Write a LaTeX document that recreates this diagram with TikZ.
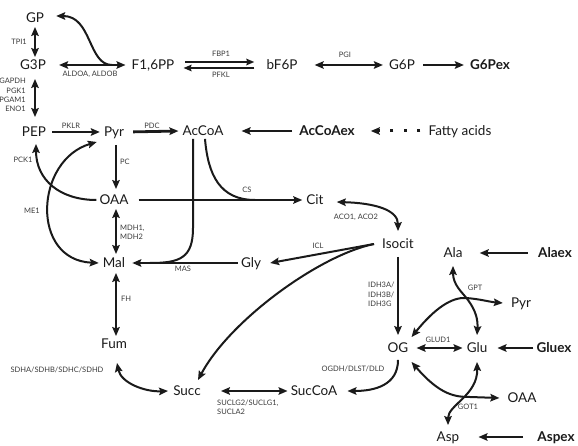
\documentclass[tikz,border=0pt]{standalone}
\usepackage{fontspec}
\setmainfont{Lato}
\usetikzlibrary{arrows.meta}
\definecolor{ink}{HTML}{1A1A1A}
\definecolor{lab}{HTML}{3A3A3A}
\begin{document}
\begin{tikzpicture}[x=1pt,y=-1pt,
  >={Stealth[length=9pt,width=7.5pt,inset=1.5pt]},
  met/.style={font=\fontsize{13.5}{16}\selectfont, text=ink, inner sep=3pt, text height=9.5pt, text depth=0pt},
  metb/.style={met, font=\fontsize{13.5}{16}\selectfont\bfseries},
  enz/.style={font=\fontsize{7.5}{9.3}\selectfont, text=lab, inner sep=0pt},
  thk/.style={draw=ink, line width=2.8pt},
  crv/.style={draw=ink, line width=2pt},
  small/.style={>={Stealth[length=8pt,width=6.5pt,inset=1pt]}},
]
\useasboundingbox (0,0) rectangle (578,446);
% metabolites
\node[met] (GP) at (35,18) {GP};
\node[met] (G3P) at (33,65) {G3P};
\node[met] (F16PP) at (153,65) {F1,6PP};
\node[met] (bF6P) at (282,65) {bF6P};
\node[met] (G6P) at (402,65) {G6P};
\node[metb] (G6Pex) at (490,65) {G6Pex};
\node[met] (PEP) at (34,132) {PEP};
\node[met] (Pyr) at (114,132) {Pyr};
\node[met] (AcCoA) at (203,131) {AcCoA};
\node[metb] (AcCoAex) at (327,131) {AcCoAex};
\node[met] (FA) at (460,131) {Fatty acids};
\node[met] (OAA) at (114,200) {OAA};
\node[met] (Cit) at (315,200) {Cit};
\node[met] (Isocit) at (398,244) {Isocit};
\node[met] (Mal) at (114,263) {Mal};
\node[met] (Gly) at (251,263) {Gly};
\node[met] (Ala) at (453,253) {Ala};
\node[metb] (Alaex) at (555,253) {Alaex};
\node[met] (Pyr2) at (521,303) {Pyr};
\node[met] (OG) at (398,348) {OG};
\node[met] (Glu) at (477,348) {Glu};
\node[metb] (Gluex) at (554,348) {Gluex};
\node[met] (OAA2) at (522,398) {OAA};
\node[met] (Asp) at (448,437) {Asp};
\node[metb] (Aspex) at (556,437) {Aspex};
\node[met] (Fum) at (114,344) {Fum};
\node[met] (Succ) at (187,391) {Succ};
\node[met] (SucCoA) at (314,391) {SucCoA};
% glycolysis
\draw[thk,<->,shorten <=1pt] (GP.south) -- (GP.south |- G3P.north);
\draw[thk,<->,shorten <=6pt,shorten >=7pt] ([xshift=2pt]G3P.south) -- ([xshift=2pt]G3P.south |- PEP.north);
\draw[thk,<->,shorten <=10pt,shorten >=3pt] (G3P.east) -- (F16PP.west);
\coordinate (aldo) at (112,65);
\draw[crv,->] (aldo) .. controls (88,65) and (92,16) .. ([xshift=9pt,yshift=2pt]GP.east);
\draw[thk,small,->,shorten <=8pt,shorten >=9pt] ([yshift=3pt]F16PP.east) -- ([yshift=3pt]bF6P.west);
\draw[thk,small,->,shorten <=9pt,shorten >=6pt] ([yshift=-3pt]bF6P.west) -- ([yshift=-3pt]F16PP.east);
\draw[thk,<->,shorten <=14pt,shorten >=3pt] (bF6P.east) -- (G6P.west);
\draw[thk,->,shorten <=5pt,shorten >=3pt] (G6P.east) -- (G6Pex.west);
\draw[thk,->,shorten <=3pt,shorten >=1pt] (PEP.east) -- (Pyr.west);
\draw[thk,->,shorten <=6pt,shorten >=1pt] (Pyr.east) -- (AcCoA.west);
\draw[thk,->,shorten <=4pt,shorten >=15pt] (AcCoAex.west) -- (AcCoA.east);
\draw[ink,line width=3pt,dash pattern=on 3pt off 10.5pt,->,shorten <=5pt,shorten >=13pt] (FA.west) -- (AcCoAex.east);
% TCA
\draw[thk,->,shorten <=5pt,shorten >=3pt] ([xshift=2pt]Pyr.south) -- ([xshift=2pt]OAA.north);
\draw[thk,<->,shorten <=1pt,shorten >=1pt] ([xshift=2pt]OAA.south) -- ([xshift=2pt]Mal.north);
\draw[thk,<->,shorten <=2pt] ([xshift=2pt]Mal.south) -- ([xshift=2pt]Fum.north);
\draw[thk,->,shorten <=7pt,shorten >=1pt] (OAA.east) -- (Cit.west);
\coordinate (cs) at (255,200);
\draw[crv] ([xshift=2pt]AcCoA.south) .. controls (208,175) and (220,200) .. (cs);
\coordinate (mas) at (150,263);
\draw[crv] ([xshift=-10pt]AcCoA.south) -- (193,228) .. controls (193,258) and (180,263) .. (mas);
\draw[thk,->,shorten >=4pt] (Gly.west) -- (Mal.east);
\draw[crv,<->] ([xshift=10pt,yshift=-2pt]Cit.east) .. controls (375,203) and (398,210) .. ([yshift=5pt]Isocit.north);
\draw[crv,->] ([xshift=-5pt]Isocit.west) -- ([xshift=6pt]Gly.east);
\draw[crv,->] ([xshift=-5pt]Isocit.west) .. controls (320,255) and (230,320) .. ([xshift=11pt,yshift=3pt]Succ.north);
\draw[thk,->,shorten <=5pt,shorten >=5pt] (Isocit.south) -- (OG.north);
\draw[crv,->] ([yshift=-4pt]OG.south) .. controls (398,385) and (375,391) .. ([xshift=7pt]SucCoA.east);
\draw[thk,<->,shorten <=17pt] (Succ.east) -- (SucCoA.west);
\draw[crv,<->] ([xshift=3pt,yshift=-11pt]Fum.south) .. controls (121,383) and (145,392) .. ([xshift=-2pt]Succ.west);
\draw[crv,<->] ([xshift=-4pt,yshift=-2pt]Pyr.south west) .. controls (35,160) and (30,260) .. ([xshift=-1pt]Mal.west);
\draw[crv,->] (OAA.west) .. controls (60,200) and (36,180) .. ([xshift=2pt,yshift=-4pt]PEP.south);
% amino acids
\draw[thk,<->,shorten <=5pt,shorten >=1pt] (OG.east) -- (Glu.west);
\draw[thk,->,shorten >=7pt] (Gluex.west) -- (Glu.east);
\draw[thk,->,shorten <=7pt,shorten >=14pt] (Alaex.west) -- (Ala.east);
\draw[thk,->,shorten <=11pt,shorten >=16pt] (Aspex.west) -- (Asp.east);
\draw[crv,<->] ([yshift=3pt]OG.north east) .. controls (435,308) and (452,297) .. (466,298) .. controls (480,299) and (490,302) .. ([xshift=-5pt]Pyr2.west);
\draw[crv,<->] ([yshift=-5pt]Ala.south) .. controls (453,285) and (462,292) .. (468,300) .. controls (476,311) and (478,320) .. ([yshift=5pt]Glu.north);
\draw[crv,<->] ([yshift=-6pt]OG.south east) .. controls (440,395) and (455,397) .. (470,397) -- ([xshift=-5pt]OAA2.west);
\draw[crv,<->] ([yshift=4pt]Asp.north) .. controls (448,405) and (478,395) .. ([yshift=-6pt]Glu.south);
% enzyme labels
\node[enz,anchor=east] (tpi) at (27,42) {TPI1};
\node[enz,anchor=east,align=right] (gapdh) at (26,95) {GAPDH\\PGK1\\PGAM1\\ENO1};
\node[enz] (aldol) at (90,74) {ALDOA, ALDOB};
\node[enz] (fbp) at (221,54) {FBP1};
\node[enz] (pfk) at (221,75) {PFKL};
\node[enz] (pgi) at (345,55) {PGI};
\node[enz] (pklr) at (71,126) {PKLR};
\node[enz] (pdc) at (152,126) {PDC};
\node[enz,anchor=west] (pc) at (120,162) {PC};
\node[enz] (pck) at (23,160) {PCK1};
\node[enz] (me) at (32,211) {ME1};
\node[enz,anchor=west,align=left] (mdh) at (120,232.5) {MDH1,\\MDH2};
\node[enz] (csl) at (247,190) {CS};
\node[enz] (aco) at (356,217) {ACO1, ACO2};
\node[enz] (icl) at (318,246) {ICL};
\node[enz] (masl) at (183,269) {MAS};
\node[enz,anchor=west] (fh) at (121,299) {FH};
\node[enz] (sdh) at (57,370) {SDHA/SDHB/SDHC/SDHD};
\node[enz,anchor=west,align=left] (sucl) at (217,407.5) {SUCLG2/SUCLG1,\\SUCLA2};
\node[enz] (ogdh) at (353,369) {OGDH/DLST/DLD};
\node[enz,anchor=west,align=left] (idh) at (368,294.5) {IDH3A/\\IDH3B/\\IDH3G};
\node[enz] (glud) at (438,340) {GLUD1};
\node[enz] (gpt) at (475,288) {GPT};
\node[enz] (got) at (468,407) {GOT1};
\end{tikzpicture}
\end{document}
